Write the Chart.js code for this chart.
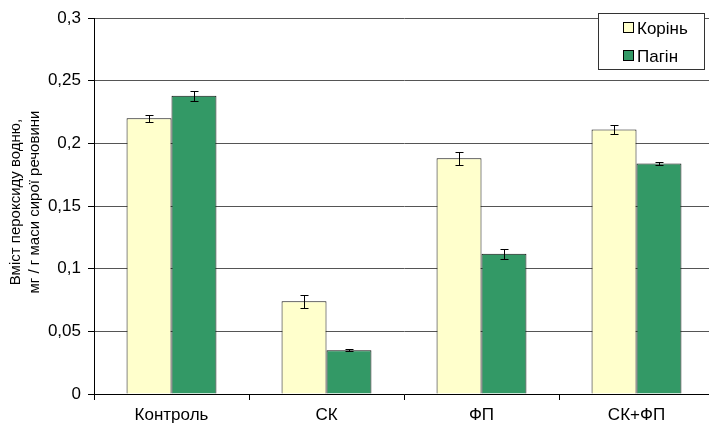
<!DOCTYPE html>
<html>
<head>
<meta charset="utf-8">
<script src="https://cdn.jsdelivr.net/npm/chart.js@4/dist/chart.umd.min.js"></script>
<style>
  html, body { margin: 0; padding: 0; background: #fff; overflow: hidden; }
  #wrap { width: 720px; height: 431px; }
</style>
</head>
<body>
<div id="wrap"><canvas id="c" width="720" height="431"></canvas></div>
<script>
// Hydrogen peroxide content, mg / g fresh weight
const categories = ['Контроль', 'СК', 'ФП', 'СК+ФП'];
const rootValues = [0.220, 0.074, 0.188, 0.211];
const rootErrors = [0.003, 0.005, 0.005, 0.0035];
const shootValues = [0.238, 0.035, 0.112, 0.184];
const shootErrors = [0.004, 0.001, 0.004, 0.0015];
const yTicks = [0, 0.05, 0.1, 0.15, 0.2, 0.25, 0.3];
const yTitle = ['Вміст пероксиду водню,', 'мг / г маси сирої речовини'];

const FONT = 'Liberation Sans, Arial, sans-serif';

// whiskers drawn from each dataset's error array
const errorBars = {
  id: 'errorBars',
  afterDatasetsDraw(chart) {
    const ctx = chart.ctx;
    const y = chart.scales.y;
    ctx.save();
    ctx.strokeStyle = '#000';
    ctx.lineWidth = 1;
    chart.data.datasets.forEach((ds, di) => {
      const meta = chart.getDatasetMeta(di);
      meta.data.forEach((bar, i) => {
        const v = ds.data[i], e = ds.errors[i];
        const x = Math.round(bar.x) + 0.5;
        const top = Math.round(y.getPixelForValue(v + e)) + 0.5;
        const bot = Math.round(y.getPixelForValue(v - e)) + 0.5;
        ctx.beginPath();
        ctx.moveTo(x, top); ctx.lineTo(x, bot);
        ctx.moveTo(x - 4, top); ctx.lineTo(x + 4, top);
        ctx.moveTo(x - 4, bot); ctx.lineTo(x + 4, bot);
        ctx.stroke();
      });
    });
    ctx.restore();
  }
};

// rotated two-line axis title
const yAxisTitle = {
  id: 'yAxisTitle',
  afterDraw(chart) {
    const ctx = chart.ctx;
    ctx.save();
    ctx.translate(0, 202);
    ctx.rotate(-Math.PI / 2);
    ctx.font = '15px ' + FONT;
    ctx.fillStyle = '#000';
    ctx.textAlign = 'center';
    ctx.textBaseline = 'middle';
    yTitle.forEach((line, i) => ctx.fillText(line, 0, 16 + i * 19));
    ctx.restore();
  }
};

// boxed legend in the top-right corner
const boxLegend = {
  id: 'boxLegend',
  afterDraw(chart) {
    const ctx = chart.ctx;
    const bx = 598.5, by = 13.5, bw = 106, bh = 56;
    ctx.save();
    ctx.fillStyle = '#fff';
    ctx.fillRect(bx, by, bw, bh);
    ctx.strokeStyle = '#333';
    ctx.lineWidth = 1;
    ctx.strokeRect(bx, by, bw, bh);
    ctx.font = '17px ' + FONT;
    ctx.textBaseline = 'middle';
    chart.data.datasets.forEach((ds, i) => {
      const cy = 28 + i * 28;
      ctx.fillStyle = ds.backgroundColor;
      ctx.fillRect(623.5, cy - 5.5, 10, 10);
      ctx.strokeStyle = '#000';
      ctx.strokeRect(623.5, cy - 5.5, 10, 10);
      ctx.fillStyle = '#000';
      ctx.fillText(ds.label, 637, cy + 1);
    });
    ctx.restore();
  }
};

new Chart(document.getElementById('c'), {
  type: 'bar',
  data: {
    labels: categories,
    datasets: [
      { label: 'Корінь', data: rootValues, errors: rootErrors,
        backgroundColor: '#FFFFCC', borderColor: '#111', borderWidth: 1 },
      { label: 'Пагін', data: shootValues, errors: shootErrors,
        backgroundColor: '#339966', borderColor: '#111', borderWidth: 1 }
    ]
  },
  options: {
    responsive: false,
    animation: false,
    events: [],
    layout: { padding: { top: 18, right: 6, left: 0, bottom: 0 } },
    datasets: { bar: { categoryPercentage: 0.58, barPercentage: 1.0 } },
    plugins: { legend: { display: false }, tooltip: { enabled: false } },
    scales: {
      x: {
        afterFit(s) { s.height = 37; },
        grid: { display: true, drawOnChartArea: false, offset: true, tickLength: 6, color: '#000' },
        border: { color: '#000', width: 1 },
        ticks: { font: { family: FONT, size: 17 }, color: '#000', padding: 5 }
      },
      y: {
        min: 0, max: 0.3,
        afterFit(s) { s.width = 94; },
        afterBuildTicks(s) { s.ticks = yTicks.map(v => ({ value: v })); },
        grid: { color: '#555', tickColor: '#000', tickLength: 6, lineWidth: 1 },
        border: { color: '#000', width: 1 },
        ticks: {
          font: { family: FONT, size: 17 }, color: '#000', padding: 7,
          callback: v => String(Math.round(v * 100) / 100).replace('.', ',')
        },
        title: { display: false }
      }
    }
  },
  plugins: [errorBars, yAxisTitle, boxLegend]
});
</script>
</body>
</html>
